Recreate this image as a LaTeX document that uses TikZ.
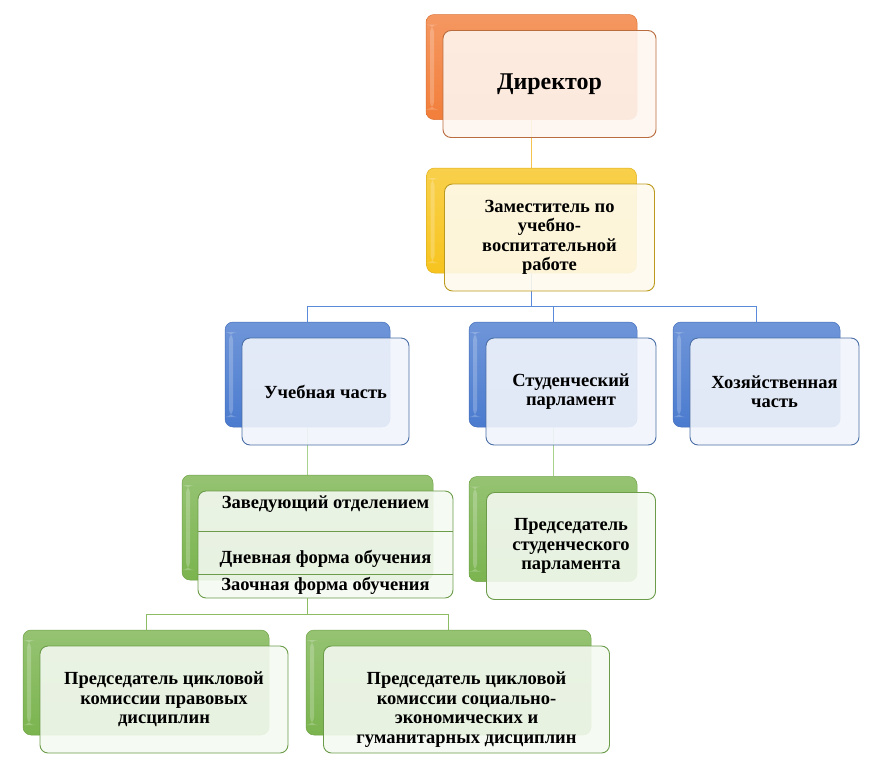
\documentclass[tikz,border=0pt]{standalone}
\usepackage{fontspec}
\setmainfont{Liberation Serif}
\usetikzlibrary{backgrounds}
\definecolor{orgC}{HTML}{F27E3A}
\definecolor{orgL}{HTML}{B96C3E}
\definecolor{yelC}{HTML}{F7C41E}
\definecolor{yelL}{HTML}{BC9A1E}
\definecolor{bluC}{HTML}{4B7BCF}
\definecolor{bluL}{HTML}{4A6FA6}
\definecolor{grnC}{HTML}{7BB44F}
\definecolor{grnL}{HTML}{6C9C4A}
\definecolor{linkO}{HTML}{F3C250}
\definecolor{linkB}{HTML}{5A8AD8}
\definecolor{linkG}{HTML}{A9D18E}
\definecolor{linkH}{HTML}{8CBD66}
\tikzset{
    box/.style={rounded corners=8pt, inner sep=0pt, minimum height=105pt},
    backbox/.style={box, top color=#1!80!white, bottom color=#1, draw=#1!90!black, line width=.5pt,
        path picture={\fill[white,opacity=.22] ([xshift=4pt,yshift=-10pt]path picture bounding box.north west)
            rectangle ([xshift=8pt,yshift=10pt]path picture bounding box.south west);}},
    frontbox/.style={box, minimum height=107pt, fill=#1!8!white, fill opacity=.9, text opacity=1,
        line width=.9pt, align=center, font=\fontsize{18.5}{19.5}\selectfont\bfseries},
    txt/.style={align=center, inner sep=0pt, font=\fontsize{18.5}{19.5}\selectfont\bfseries},
    link/.style={draw=#1, line width=.9pt}
}
\begin{document}
\begin{tikzpicture}[x=1pt,y=-1pt]
    \useasboundingbox (0,0) rectangle (873,758);

    \node[backbox=orgC, minimum width=211pt] (b-dir) at (531.5,67) {};
    \node[frontbox=orgC, draw=orgL, minimum width=213pt, font=\fontsize{24}{26}\selectfont\bfseries]
        (dir) at ([shift={(18,17)}]b-dir) {Директор};

    \node[backbox=yelC, minimum width=210pt] (b-zam) at (531.5,220.5) {};
    \node[frontbox=yelC, draw=yelL, minimum width=210pt]
        (zam) at ([shift={(18,17)}]b-zam) {Заместитель по\\учебно-\\воспитательной\\работе};

    \foreach \n/\x/\w/\t in {uch/307.5/165/{Учебная часть}, stu/553/168/{Студенческий\\парламент},
                             hoz/756.5/167/{Хозяйственная\\часть}}
    {   \node[backbox=bluC, minimum width=\w pt] (b-\n) at (\x,374.5) {};
        \node[frontbox=bluC, draw=bluL, minimum width={(\w+2)*1pt}] (\n) at ([shift={(18,17)}]b-\n) {\t};
    }

    \node[backbox=grnC, minimum width=168pt] (b-pre) at (553,529) {};
    \node[frontbox=grnC, draw=grnL, minimum width=169pt]
        (pre) at ([shift={(18,17)}]b-pre) {Председатель\\студенческого\\парламента};

    \node[backbox=grnC, minimum width=251pt] (b-zav) at (307.5,527.5) {};
    \node[frontbox=grnC, draw=grnL, minimum width=255pt] (zav) at ([shift={(18,17)}]b-zav) {};
    \draw[grnL, line width=1.2pt] ([yshift=13pt]zav.west) -- ([yshift=13pt]zav.east);
    \draw[grnL, line width=1.2pt] ([yshift=-30pt]zav.west) -- ([yshift=-30pt]zav.east);
    \node[txt] (zav1) at ([yshift=40pt]zav.center) {Заведующий отделением};
    \node[txt] (zav2) at ([yshift=-14pt]zav.center) {Дневная форма обучения};
    \node[txt] (zav3) at ([yshift=-41pt]zav.center) {Заочная форма обучения};

    \node[backbox=grnC, minimum width=246pt] (b-prv) at (146,682.5) {};
    \node[frontbox=grnC, draw=grnL, minimum width=248pt]
        (prv) at ([shift={(18,17)}]b-prv) {Председатель цикловой\\комиссии правовых\\дисциплин};

    \node[backbox=grnC, minimum width=285pt] (b-soc) at (448.5,682.5) {};
    \node[frontbox=grnC, draw=grnL, minimum width=286pt] (soc) at ([shift={(18,17)}]b-soc) {};
    \node[txt] (socT) at ([yshift=-10pt]soc.center)
        {Председатель цикловой\\комиссии социально-\\экономических и\\гуманитарных дисциплин};

    \begin{pgfonlayer}{background}
        \draw[link=linkO] (b-dir.south) -- (b-zam.north);
        \foreach \n in {uch,stu,hoz}
        {   \draw[link=linkB] (b-zam.south) -- ++(0,33) -| (b-\n.north);
        }
        \draw[link=linkG] (b-uch.south) -- (b-zav.north);
        \draw[link=linkG] (b-stu.south) -- (b-pre.north);
        \foreach \n in {prv,soc}
        {   \draw[link=linkH] (b-zav.south |- zav.south) -- ++(0,16) -| (b-\n.north);
        }
    \end{pgfonlayer}
\end{tikzpicture}
\end{document}
